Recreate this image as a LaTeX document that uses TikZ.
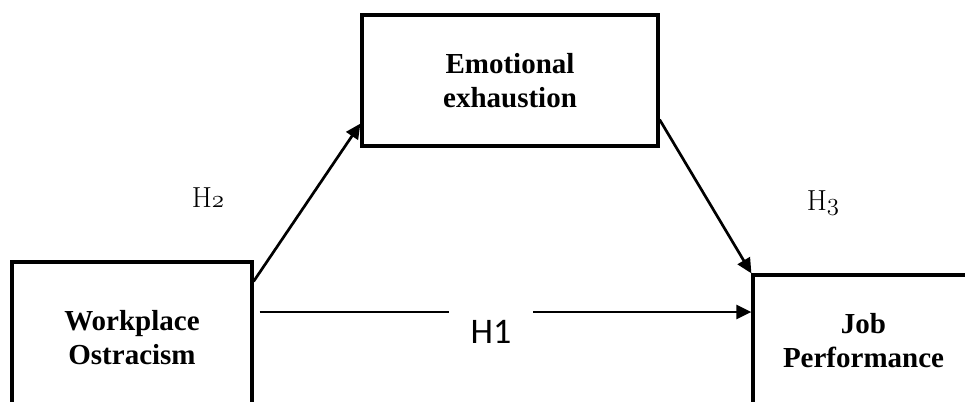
\documentclass[tikz,border=0pt]{standalone}
\usepackage{fontspec}
\newfontfamily\timesfont{Liberation Serif}
\newfontfamily\carlitofont{Carlito}
\usetikzlibrary{arrows.meta,calc}
\newcommand\osnum[1]{{\usefont{OML}{lmm}{m}{it}#1}}
\tikzset{
  box/.style={draw, line width=3.2pt, align=center, inner sep=0pt,
    font=\timesfont\bfseries\fontsize{29}{34}\selectfont},
  conn/.style={line width=2.7pt},
  arr/.style={conn, -{Triangle[length=15pt,width=14pt]}},
  hlab/.style={anchor=base, inner sep=0pt, font=\fontsize{29}{32}\selectfont},
  h1lab/.style={anchor=base, inner sep=0pt, font=\carlitofont\fontsize{36}{40}\selectfont}
}
\begin{document}
\begin{tikzpicture}[x=1pt,y=-1pt]
\useasboundingbox (0,0) rectangle (965,401);
\node[box, minimum width=240pt, minimum height=152pt] (wo) at (132,338) {Workplace\\Ostracism};
\node[box, minimum width=296pt, minimum height=131pt] (ee) at (510,80.5) {Emotional\\exhaustion};
\node[box, minimum width=221pt, minimum height=132pt] (jp) at (863.5,341) {Job\\Performance};
\coordinate (g1) at (449,312);
\coordinate (g2) at (533,312);
\draw[arr] ($(wo.north east)+(0,21)$) -- ($(ee.south west)+(0,-24)$);
\draw[arr] ($(ee.south east)+(0,-28)$) -- (jp.north west);
\draw[conn] ($(wo.east |- g1)+(6,0)$) -- (g1);
\draw[arr] (g2) -- (jp.west |- g2);
\node[hlab] (h2) at (208,207) {H\osnum{2}};
\node[hlab] (h3) at (823,210) {H\osnum{3}};
\node[h1lab] (h1) at (491,343) {H1};
\end{tikzpicture}
\end{document}
